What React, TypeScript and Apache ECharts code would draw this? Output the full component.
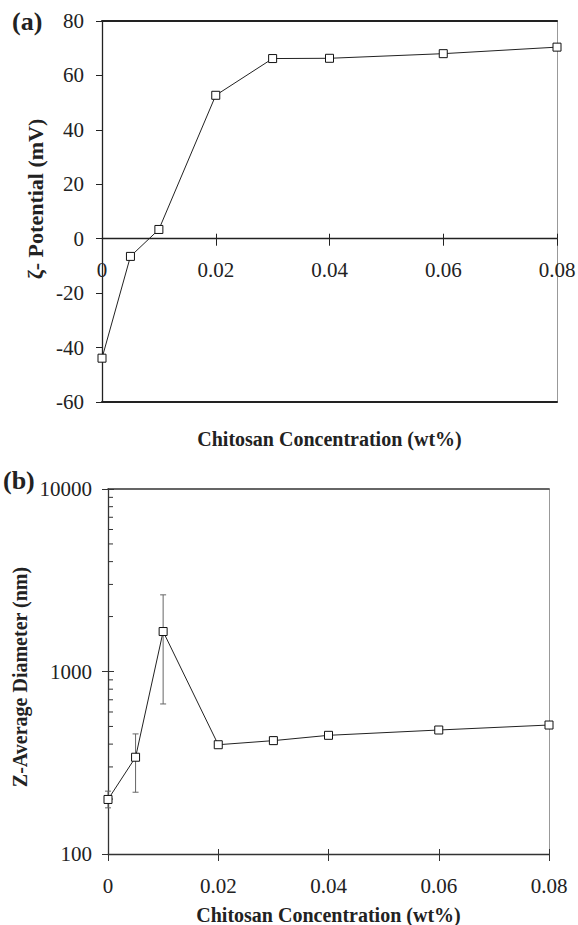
import React, { useEffect, useRef } from 'react';
import * as echarts from 'echarts';

// ---- data ----
const concentrations = [0, 0.005, 0.01, 0.02, 0.03, 0.04, 0.06, 0.08];
const zetaPotential = [-43.9, -6.5, 3.4, 52.7, 66.2, 66.3, 68.0, 70.4];
const zDiameter = [199, 339, 1656, 397, 418, 447, 478, 509];
const diameterLow = [179, 218, 664, 397, 398, 447, 462, 509];
const diameterHigh = [221, 455, 2630, 397, 440, 447, 494, 509];
const minorLogTicks = [200, 300, 400, 500, 600, 700, 800, 900, 2000, 3000, 4000, 5000, 6000, 7000, 8000, 9000];
const zetaMin = -60;
const zetaMax = 80;
const xTitle = 'Chitosan Concentration (wt%)';
const yTitleA = 'ζ- Potential (mV)';
const yTitleB = 'Z-Average Diameter (nm)';

const FONT = '"Liberation Serif", "Times New Roman", serif';
const LABEL = { fontFamily: FONT, fontSize: 21, color: '#222' };

export default function App() {
  const ref = useRef<HTMLDivElement>(null);
  useEffect(() => {
    if (!ref.current) return;
    const chart = echarts.init(ref.current, undefined, { renderer: 'svg' });

    const hidden = { show: false };
    const xBase = { type: 'value', min: 0, max: 0.08, interval: 0.02 };
    const grid0H = 381;
    // shift of the zero line from the bottom edge of the top grid, from the axis scale
    const zeroOffset = -((0 - zetaMin) / (zetaMax - zetaMin)) * grid0H;
    const titleStyle = { fontFamily: FONT, fontSize: 20, fontWeight: 'bold', color: '#222' };

    const option: any = {
      animation: false,
      backgroundColor: '#fff',
      grid: [
        { left: 102, top: 21, width: 455, height: grid0H, outerBoundsMode: 'none' },
        { left: 108, top: 489, width: 441, height: 365, outerBoundsMode: 'none' },
      ],
      xAxis: [
        // 0: grid0 main axis at zero, ticks outward
        {
          ...xBase, gridIndex: 0, position: 'bottom', offset: zeroOffset,
          axisLine: { onZero: false, lineStyle: { color: '#222', width: 1.3 } },
          axisTick: { show: true, inside: false, length: 7, lineStyle: { color: '#222' } },
          axisLabel: { ...LABEL, margin: 21, showMinLabel: true, showMaxLabel: true },
          splitLine: hidden,
        },
        // 1: grid0 inside ticks at zero
        {
          ...xBase, gridIndex: 0, position: 'bottom', offset: zeroOffset,
          axisLine: { show: false, onZero: false },
          axisTick: { show: true, inside: true, length: 5, lineStyle: { color: '#222' } },
          axisLabel: hidden, splitLine: hidden,
        },
        // 2: grid0 top border
        {
          ...xBase, gridIndex: 0, position: 'top',
          axisLine: { onZero: false, lineStyle: { color: '#222', width: 2 } },
          axisTick: hidden, axisLabel: hidden, splitLine: hidden,
        },
        // 3: grid0 bottom border + title
        {
          ...xBase, gridIndex: 0, position: 'bottom',
          axisLine: { onZero: false, lineStyle: { color: '#222', width: 2 } },
          axisTick: hidden, axisLabel: hidden, splitLine: hidden,
          name: xTitle, nameLocation: 'middle', nameGap: 27,
          nameTextStyle: titleStyle,
        },
        // 4: grid1 main bottom axis
        {
          ...xBase, gridIndex: 1, position: 'bottom',
          axisLine: { onZero: false, lineStyle: { color: '#333', width: 1.3 } },
          axisTick: { show: true, inside: false, length: 7, lineStyle: { color: '#333' } },
          axisLabel: { ...LABEL, margin: 21, showMinLabel: true, showMaxLabel: true },
          splitLine: hidden,
          name: xTitle, nameLocation: 'middle', nameGap: 51,
          nameTextStyle: titleStyle,
        },
        // 5: grid1 inside ticks
        {
          ...xBase, gridIndex: 1, position: 'bottom',
          axisLine: { show: false, onZero: false },
          axisTick: { show: true, inside: true, length: 5, lineStyle: { color: '#333' } },
          axisLabel: hidden, splitLine: hidden,
        },
        // 6: grid1 top border
        {
          ...xBase, gridIndex: 1, position: 'top',
          axisLine: { onZero: false, lineStyle: { color: '#333', width: 1.5 } },
          axisTick: hidden, axisLabel: hidden, splitLine: hidden,
        },
      ],
      yAxis: [
        // 0: grid0 left
        {
          type: 'value', gridIndex: 0, position: 'left', min: zetaMin, max: zetaMax, interval: 20,
          axisLine: { onZero: false, lineStyle: { color: '#222', width: 1.3 } },
          axisTick: { show: true, inside: false, length: 6, lineStyle: { color: '#222' } },
          axisLabel: { ...LABEL, margin: 18 },
          splitLine: hidden,
        },
        // 1: grid0 right border
        {
          type: 'value', gridIndex: 0, position: 'right', min: zetaMin, max: zetaMax, interval: 20,
          axisLine: { show: true, onZero: false, lineStyle: { color: '#999', width: 1 } },
          axisTick: hidden, axisLabel: hidden, splitLine: hidden,
        },
        // 2: grid1 left log
        {
          type: 'log', logBase: 10, gridIndex: 1, position: 'left', min: 100, max: 10000,
          axisLine: { onZero: false, lineStyle: { color: '#333', width: 1.3 } },
          axisTick: { show: true, inside: false, length: 6, lineStyle: { color: '#333' } },
          axisLabel: { ...LABEL, margin: 16, formatter: (v: number) => String(Math.round(v)) },
          splitLine: hidden, minorTick: hidden, minorSplitLine: hidden,
        },
        // 3: grid1 inside major ticks
        {
          type: 'log', logBase: 10, gridIndex: 1, position: 'left', min: 100, max: 10000,
          axisLine: { show: false, onZero: false },
          axisTick: { show: true, inside: true, length: 6, lineStyle: { color: '#333' } },
          axisLabel: hidden, splitLine: hidden,
        },
        // 4: grid1 right border
        {
          type: 'log', logBase: 10, gridIndex: 1, position: 'right', min: 100, max: 10000,
          axisLine: { show: true, onZero: false, lineStyle: { color: '#999', width: 1 } },
          axisTick: hidden, axisLabel: hidden, splitLine: hidden,
        },
      ],
      series: [
        {
          type: 'line', xAxisIndex: 0, yAxisIndex: 0, z: 3,
          data: concentrations.map((c, i) => [c, zetaPotential[i]]),
          symbol: 'rect', symbolSize: 8, showSymbol: true,
          itemStyle: { color: '#fff', borderColor: '#111', borderWidth: 1 },
          lineStyle: { color: '#222', width: 1 },
        },
        {
          type: 'custom', xAxisIndex: 4, yAxisIndex: 2, z: 2, clip: false,
          data: concentrations.map((c, i) => [c, diameterLow[i], diameterHigh[i]]),
          encode: { x: 0, y: [1, 2] },
          renderItem: (params: any, api: any) => {
            const lo = api.coord([api.value(0), api.value(1)]);
            const hi = api.coord([api.value(0), api.value(2)]);
            const w = 3;
            const st = { stroke: '#666', lineWidth: 1 };
            return {
              type: 'group',
              children: [
                { type: 'line', shape: { x1: lo[0], y1: lo[1], x2: hi[0], y2: hi[1] }, style: st },
                { type: 'line', shape: { x1: lo[0] - w, y1: lo[1], x2: lo[0] + w, y2: lo[1] }, style: st },
                { type: 'line', shape: { x1: hi[0] - w, y1: hi[1], x2: hi[0] + w, y2: hi[1] }, style: st },
              ],
            };
          },
        },
        {
          type: 'line', xAxisIndex: 4, yAxisIndex: 2, z: 3,
          data: concentrations.map((c, i) => [c, zDiameter[i]]),
          symbol: 'rect', symbolSize: 8, showSymbol: true,
          itemStyle: { color: '#fff', borderColor: '#111', borderWidth: 1 },
          lineStyle: { color: '#222', width: 1 },
        },
        {
          type: 'custom', xAxisIndex: 4, yAxisIndex: 2, z: 2, clip: false, silent: true,
          data: minorLogTicks.map((v) => [0, v]),
          encode: { x: 0, y: 1 },
          renderItem: (params: any, api: any) => {
            const p = api.coord([api.value(0), api.value(1)]);
            return {
              type: 'line',
              shape: { x1: p[0], y1: p[1], x2: p[0] + 5, y2: p[1] },
              style: { stroke: '#333', lineWidth: 1 },
            };
          },
        },
      ],
      graphic: [
        {
          type: 'text', left: 12, top: 8,
          style: { text: '(a)', font: `bold 26px ${FONT}`, fill: '#222' },
        },
        {
          type: 'text', left: 3, top: 467,
          style: { text: '(b)', font: `bold 26px ${FONT}`, fill: '#222' },
        },
        {
          type: 'text', x: 35, y: 199, rotation: Math.PI / 2,
          style: {
            text: yTitleA, font: `bold 22px ${FONT}`, fill: '#222',
            textAlign: 'center', textVerticalAlign: 'middle', align: 'center', verticalAlign: 'middle',
          },
        },
        {
          type: 'text', x: 20, y: 677, rotation: Math.PI / 2,
          style: {
            text: yTitleB, font: `bold 20px ${FONT}`, fill: '#222',
            textAlign: 'center', textVerticalAlign: 'middle', align: 'center', verticalAlign: 'middle',
          },
        },
      ],
    };
    chart.setOption(option);
    return () => chart.dispose();
  }, []);
  return (
    <div
      ref={ref}
      style={{ position: 'absolute', left: 0, top: 0, width: 578, height: 925, background: '#fff' }}
    />
  );
}
